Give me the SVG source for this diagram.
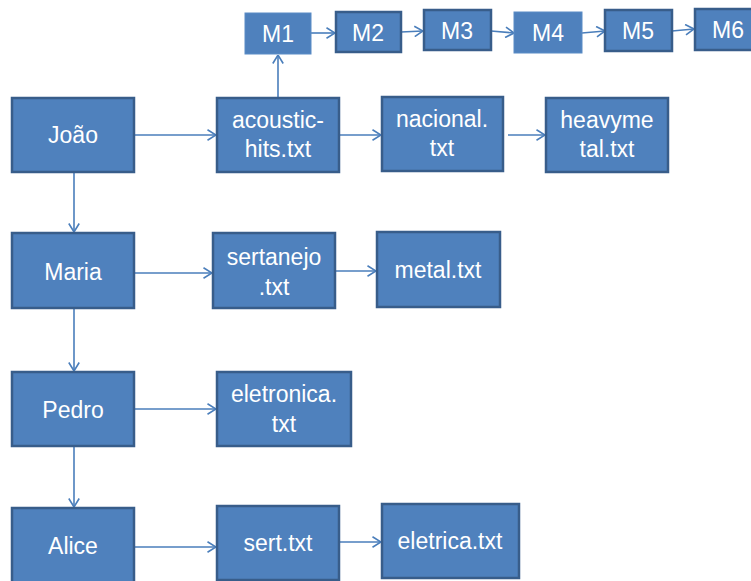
<svg xmlns="http://www.w3.org/2000/svg" width="751" height="581" viewBox="0 0 751 581">
<style>
.b{fill:#4F81BD;stroke:#385D8A;stroke-width:2.5}
.p{fill:#4F81BD;stroke:#5B8CC6;stroke-width:1}
text{font-family:"Liberation Sans",Arial,sans-serif;font-size:23px;fill:#fff;text-anchor:middle}
.c line{stroke:#4A7EBB;stroke-width:1.6;marker-end:url(#a)}
</style>
<defs>
<marker id="a" viewBox="0 0 10 12" refX="9.5" refY="6" markerWidth="10" markerHeight="12" markerUnits="userSpaceOnUse" orient="auto">
<path d="M1,0.8 L9.5,6 L1,11.2" fill="none" stroke="#4A7EBB" stroke-width="1.6"/>
</marker>
</defs>
<rect width="751" height="581" fill="#fff"/>
<g class="c">
<line x1="134" y1="135" x2="216" y2="135"/>
<line x1="339" y1="135" x2="381" y2="135"/>
<line x1="508" y1="135" x2="545" y2="135"/>
<line x1="278" y1="98" x2="278" y2="55"/>
<line x1="311" y1="33" x2="335" y2="33"/>
<line x1="401" y1="32" x2="423" y2="31"/>
<line x1="491" y1="31" x2="514" y2="33"/>
<line x1="582" y1="33" x2="605" y2="31"/>
<line x1="672" y1="31" x2="694" y2="29"/>
<line x1="74" y1="173" x2="74" y2="232"/>
<line x1="134" y1="273" x2="212" y2="273"/>
<line x1="335" y1="271" x2="376" y2="271"/>
<line x1="74" y1="308" x2="74" y2="371"/>
<line x1="134" y1="409" x2="216" y2="409"/>
<line x1="74" y1="446" x2="74" y2="507"/>
<line x1="134" y1="547" x2="216" y2="547"/>
<line x1="339" y1="542" x2="381" y2="542"/>
</g>
<g id="joao"><rect class="b" x="12" y="98" width="122" height="74"/><text x="73" y="143">João</text></g>
<g id="acoustic"><rect class="b" x="217" y="98" width="122" height="74"/><text x="278" y="128">acoustic-</text><text x="278" y="157">hits.txt</text></g>
<g id="nacional"><rect class="b" x="382" y="97" width="121" height="74"/><text x="442" y="127">nacional.</text><text x="442" y="156">txt</text></g>
<g id="heavymetal"><rect class="b" x="546" y="98" width="122" height="74"/><text x="607" y="128">heavyme</text><text x="607" y="157">tal.txt</text></g>
<g id="m1"><rect class="p" x="245" y="13" width="66" height="41"/><text x="278" y="42">M1</text></g>
<g id="m2"><rect class="b" x="336" y="12" width="65" height="40"/><text x="368" y="41">M2</text></g>
<g id="m3"><rect class="b" x="424" y="10" width="67" height="40"/><text x="457" y="39">M3</text></g>
<g id="m4"><rect class="p" x="514" y="12" width="68" height="41"/><text x="548" y="41">M4</text></g>
<g id="m5"><rect class="b" x="605" y="10" width="67" height="41"/><text x="638" y="39">M5</text></g>
<g id="m6"><rect class="b" x="695" y="9" width="70" height="41"/><text x="728" y="38">M6</text></g>
<g id="maria"><rect class="b" x="12" y="233" width="122" height="75"/><text x="73" y="280">Maria</text></g>
<g id="sertanejo"><rect class="b" x="213" y="233" width="122" height="75"/><text x="274" y="265">sertanejo</text><text x="274" y="295">.txt</text></g>
<g id="metal"><rect class="b" x="377" y="232" width="123" height="75"/><text x="438" y="278">metal.txt</text></g>
<g id="pedro"><rect class="b" x="12" y="372" width="122" height="74"/><text x="73" y="418">Pedro</text></g>
<g id="eletronica"><rect class="b" x="217" y="372" width="134" height="74"/><text x="284" y="402">eletronica.</text><text x="284" y="432">txt</text></g>
<g id="alice"><rect class="b" x="12" y="508" width="122" height="76"/><text x="73" y="554">Alice</text></g>
<g id="sert"><rect class="b" x="217" y="506" width="122" height="74"/><text x="278" y="551">sert.txt</text></g>
<g id="eletrica"><rect class="b" x="382" y="504" width="137" height="74"/><text x="450" y="549">eletrica.txt</text></g>
</svg>
